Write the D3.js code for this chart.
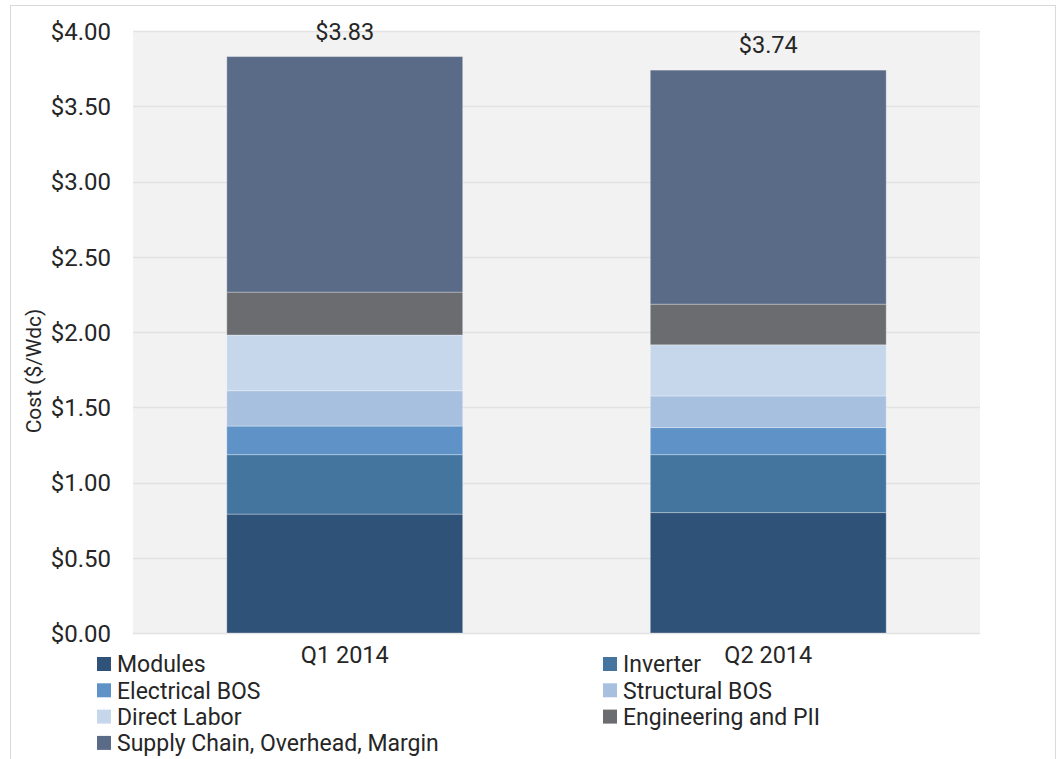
<!DOCTYPE html>
<html>
<head>
<meta charset="utf-8">
<script src="https://cdn.jsdelivr.net/npm/d3@7"></script>
<style>
  body { margin: 0; background: #fff; }
  svg text { font-family: Roboto, "Liberation Sans", sans-serif; fill: #262626; }
</style>
</head>
<body>
<div id="chart"></div>
<script>
// data
var quarters = ["Q1 2014", "Q2 2014"];
var categories = ["Modules", "Inverter", "Electrical BOS", "Structural BOS", "Direct Labor", "Engineering and PII", "Supply Chain, Overhead, Margin"];
var modules = [0.79, 0.80];
var inverter = [0.395, 0.385];
var electricalBOS = [0.19, 0.18];
var structuralBOS = [0.235, 0.21];
var directLabor = [0.37, 0.34];
var engineering = [0.285, 0.27];
var supplyChain = [1.565, 1.555];
var totals = [3.83, 3.74];
var yTicks = [0, 0.5, 1, 1.5, 2, 2.5, 3, 3.5, 4];

var colors = ["#2f5278", "#44759f", "#5f93c8", "#a8c0e0", "#c6d7ec", "#6b6c6f", "#5a6b88"];

var series = [modules, inverter, electricalBOS, structuralBOS, directLabor, engineering, supplyChain];

// build rows for d3.stack
var rows = quarters.map(function(q, i) {
  var r = { quarter: q };
  categories.forEach(function(c, k) { r[c] = series[k][i]; });
  return r;
});

var W = 1059, H = 759;
var margin = { top: 31, left: 133, right: 79, bottom: 126 };
var width = W - margin.left - margin.right;
var height = H - margin.top - margin.bottom;

var svg = d3.select("#chart").append("svg")
    .attr("width", W)
    .attr("height", H);

// outer frame
svg.append("rect")
    .attr("x", 10.5).attr("y", 5.5)
    .attr("width", 1045).attr("height", 770)
    .attr("fill", "none")
    .attr("stroke", "#d9d9d9");

var g = svg.append("g")
    .attr("transform", "translate(" + margin.left + "," + margin.top + ")");

var x = d3.scaleBand()
    .domain(quarters)
    .range([0, width])
    .paddingInner(0.443)
    .paddingOuter(0.2215);

var y = d3.scaleLinear()
    .domain([0, 4])
    .range([height, 0]);

// plot background
g.append("rect")
    .attr("width", width)
    .attr("height", height)
    .attr("fill", "#f2f2f2");

// gridlines
g.selectAll(".grid")
    .data(yTicks)
    .enter()
    .append("line")
    .attr("class", "grid")
    .attr("x1", 0).attr("x2", width)
    .attr("y1", function(d) { return Math.round(y(d)) + 0.5; })
    .attr("y2", function(d) { return Math.round(y(d)) + 0.5; })
    .attr("stroke", "#e2e2e2")
    .attr("stroke-width", 1.5);

// stacked bars
var stacked = d3.stack().keys(categories)(rows);

var layers = g.selectAll(".layer")
    .data(stacked)
    .enter()
    .append("g")
    .attr("class", "layer")
    .attr("fill", function(d, i) { return colors[i]; });

layers.selectAll("rect")
    .data(function(d) { return d; })
    .enter()
    .append("rect")
    .attr("x", function(d) { return x(d.data.quarter); })
    .attr("width", x.bandwidth())
    .attr("y", function(d) { return y(d[1]); })
    .attr("height", function(d) { return y(d[0]) - y(d[1]); })
    .attr("stroke", "#ffffff")
    .attr("stroke-opacity", 0.3)
    .attr("stroke-width", 1);

// total labels
g.selectAll(".total")
    .data(quarters)
    .enter()
    .append("text")
    .attr("class", "total")
    .attr("x", function(d) { return x(d) + x.bandwidth() / 2; })
    .attr("y", function(d, i) { return y(totals[i]) - 17; })
    .attr("text-anchor", "middle")
    .attr("font-size", 23.5)
    .text(function(d, i) { return "$" + totals[i].toFixed(2); });

// y axis
var y_axis = d3.axisLeft(y)
    .tickValues(yTicks)
    .tickSize(0)
    .tickPadding(22)
    .tickFormat(function(d) { return "$" + d.toFixed(2); });

var yg = g.append("g").attr("class", "y_axis").call(y_axis);
yg.select(".domain").remove();
yg.selectAll("text")
    .attr("font-size", 24)
    .attr("dy", "0.35em")
    .style("fill", "#262626");

// x axis
var x_axis = d3.axisBottom(x).tickSize(0).tickPadding(13);
var xg = g.append("g")
    .attr("class", "x_axis")
    .attr("transform", "translate(0," + height + ")")
    .call(x_axis);
xg.select(".domain").remove();
xg.selectAll("text")
    .attr("font-size", 23.5)
    .style("fill", "#262626");

// y axis title
svg.append("text")
    .attr("transform", "translate(41,371) rotate(-90)")
    .attr("text-anchor", "middle")
    .attr("font-size", 21)
    .text("Cost ($/Wdc)");

// legend, two columns
var legend = svg.selectAll(".legend")
    .data(categories)
    .enter()
    .append("g")
    .attr("class", "legend")
    .attr("transform", function(d, i) {
      var col = i % 2, row = Math.floor(i / 2);
      return "translate(" + (col ? 603 : 97) + "," + (664 + row * 26.3) + ")";
    });

legend.append("rect")
    .attr("x", 0).attr("y", -7)
    .attr("width", 14).attr("height", 14)
    .attr("fill", function(d, i) { return colors[i]; });

legend.append("text")
    .attr("x", 20)
    .attr("dy", "0.36em")
    .attr("font-size", 23)
    .text(function(d) { return d; });
</script>
</body>
</html>
